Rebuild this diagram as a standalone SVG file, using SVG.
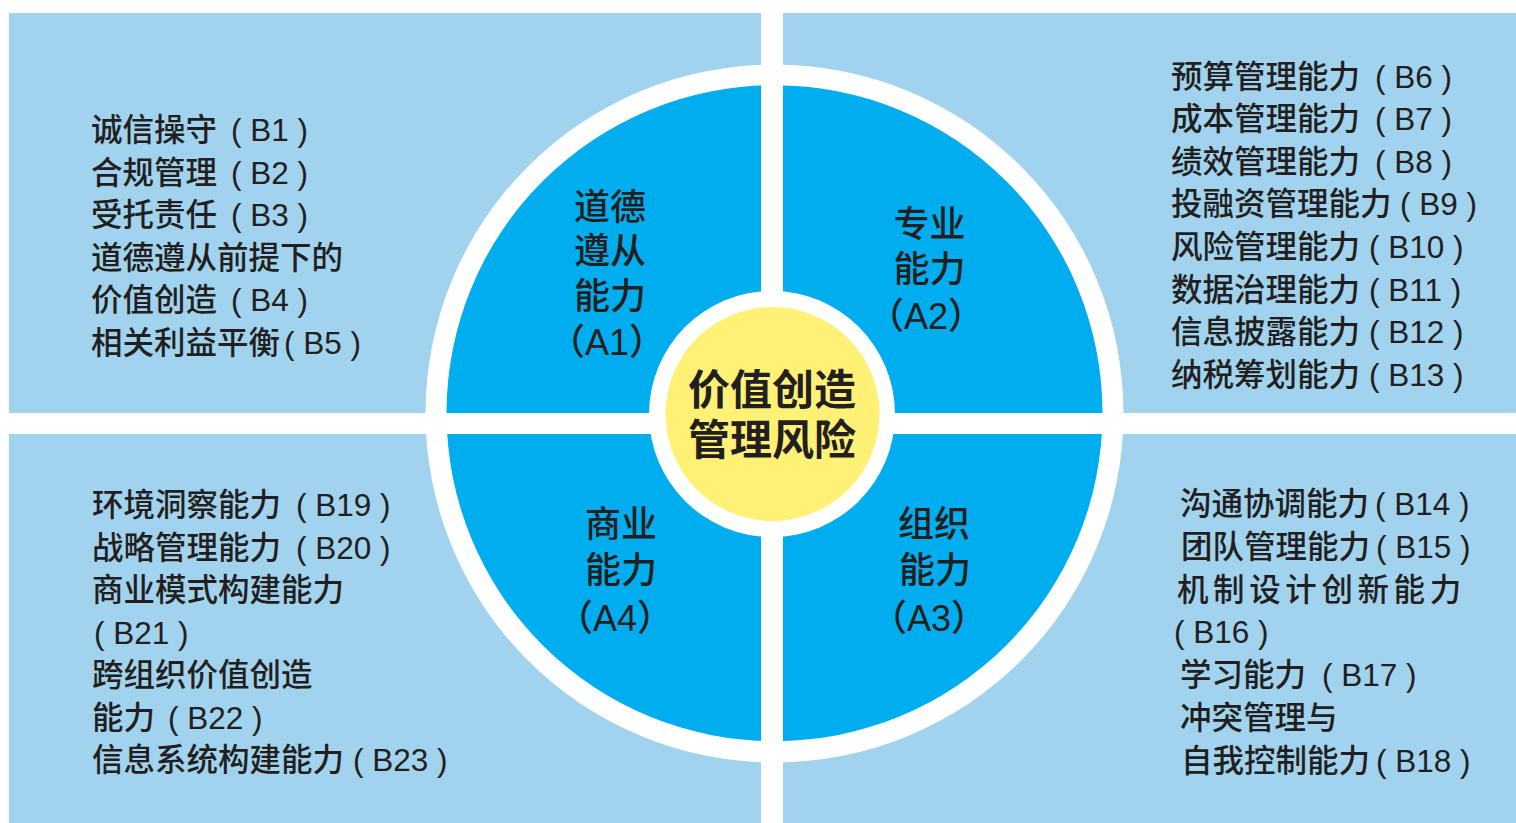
<svg xmlns="http://www.w3.org/2000/svg" width="1516" height="823" viewBox="0 0 1516 823">
<style>
text{font-family:"Liberation Sans","Noto Sans CJK SC",sans-serif;fill:#231f20}
.b{font-size:31.5px;font-weight:500}
.a{font-size:36px;font-weight:500;text-anchor:middle}
.c{font-size:42px;font-weight:700;text-anchor:middle}
.sp{letter-spacing:4.6px}
</style>
<rect x="0" y="0" width="1516" height="823" fill="#ffffff"/>
<g id="background">
<rect x="9" y="13" width="1507" height="810" fill="#a1d3ee"/>
<circle cx="774.5" cy="413.5" r="349" fill="#ffffff"/>
<circle cx="774.5" cy="413.2" r="328" fill="#00aeef"/>
<rect x="9" y="413" width="1507" height="21" fill="#ffffff"/>
<rect x="761" y="0" width="22" height="823" fill="#ffffff"/>
</g>
<g id="center">
<circle cx="772" cy="414" r="123" fill="#ffffff"/>
<circle cx="772.5" cy="414" r="107" fill="#fff176"/>
<text class="c" x="772" y="405">价值创造</text>
<text class="c" x="772" y="455">管理风险</text>
</g>
<g id="A1">
<text class="a" x="610" y="219.5">道德</text>
<text class="a" x="610" y="264">遵从</text>
<text class="a" x="610" y="308.5">能力</text>
<text class="a" x="607" y="355">（A1）</text>
</g>
<g id="A2">
<text class="a" x="929.5" y="236.5">专业</text>
<text class="a" x="929.5" y="282">能力</text>
<text class="a" x="926" y="329">（A2）</text>
</g>
<g id="A3">
<text class="a" x="934" y="536.5">组织</text>
<text class="a" x="935" y="582.5">能力</text>
<text class="a" x="929" y="631">（A3）</text>
</g>
<g id="A4">
<text class="a" x="621" y="536.5">商业</text>
<text class="a" x="621" y="582.5">能力</text>
<text class="a" x="615" y="631">（A4）</text>
</g>
<g id="B-A1">
<text class="b" x="91" y="141">诚信操守<tspan dx="14">( B1 )</tspan></text>
<text class="b" x="91" y="183.6">合规管理<tspan dx="14">( B2 )</tspan></text>
<text class="b" x="91" y="226.2">受托责任<tspan dx="14">( B3 )</tspan></text>
<text class="b" x="91" y="268.8">道德遵从前提下的</text>
<text class="b" x="91" y="311.4">价值创造<tspan dx="14">( B4 )</tspan></text>
<text class="b" x="91" y="354">相关利益平衡<tspan dx="4">( B5 )</tspan></text>
</g>
<g id="B-A2">
<text class="b" x="1171" y="87.5">预算管理能力<tspan dx="15">( B6 )</tspan></text>
<text class="b" x="1171" y="130.1">成本管理能力<tspan dx="15">( B7 )</tspan></text>
<text class="b" x="1171" y="172.7">绩效管理能力<tspan dx="15">( B8 )</tspan></text>
<text class="b" x="1171" y="215.3">投融资管理能力<tspan dx="8.5">( B9 )</tspan></text>
<text class="b" x="1171" y="257.9">风险管理能力<tspan dx="9">( B10 )</tspan></text>
<text class="b" x="1171" y="300.5">数据治理能力<tspan dx="9">( B11 )</tspan></text>
<text class="b" x="1171" y="343.1">信息披露能力<tspan dx="9">( B12 )</tspan></text>
<text class="b" x="1171" y="385.7">纳税筹划能力<tspan dx="9">( B13 )</tspan></text>
</g>
<g id="B-A3">
<text class="b" x="1180" y="515">沟通协调能力<tspan dx="6">( B14 )</tspan></text>
<text class="b" x="1181" y="557.8">团队管理能力<tspan dx="6">( B15 )</tspan></text>
<text class="b sp" x="1177" y="600.6">机制设计创新能力</text>
<text class="b" x="1174" y="643.4">( B16 )</text>
<text class="b" x="1180" y="686.2">学习能力<tspan dx="16">( B17 )</tspan></text>
<text class="b" x="1180" y="729">冲突管理与</text>
<text class="b" x="1181" y="771.8">自我控制能力<tspan dx="6">( B18 )</tspan></text>
</g>
<g id="B-A4">
<text class="b" x="92" y="516">环境洞察能力<tspan dx="15">( B19 )</tspan></text>
<text class="b" x="92" y="558.5">战略管理能力<tspan dx="15">( B20 )</tspan></text>
<text class="b" x="92" y="601">商业模式构建能力</text>
<text class="b" x="94" y="643.5">( B21 )</text>
<text class="b" x="92" y="686">跨组织价值创造</text>
<text class="b" x="92" y="728.5">能力<tspan dx="13">( B22 )</tspan></text>
<text class="b" x="92" y="771">信息系统构建能力<tspan dx="9">( B23 )</tspan></text>
</g>
</svg>
